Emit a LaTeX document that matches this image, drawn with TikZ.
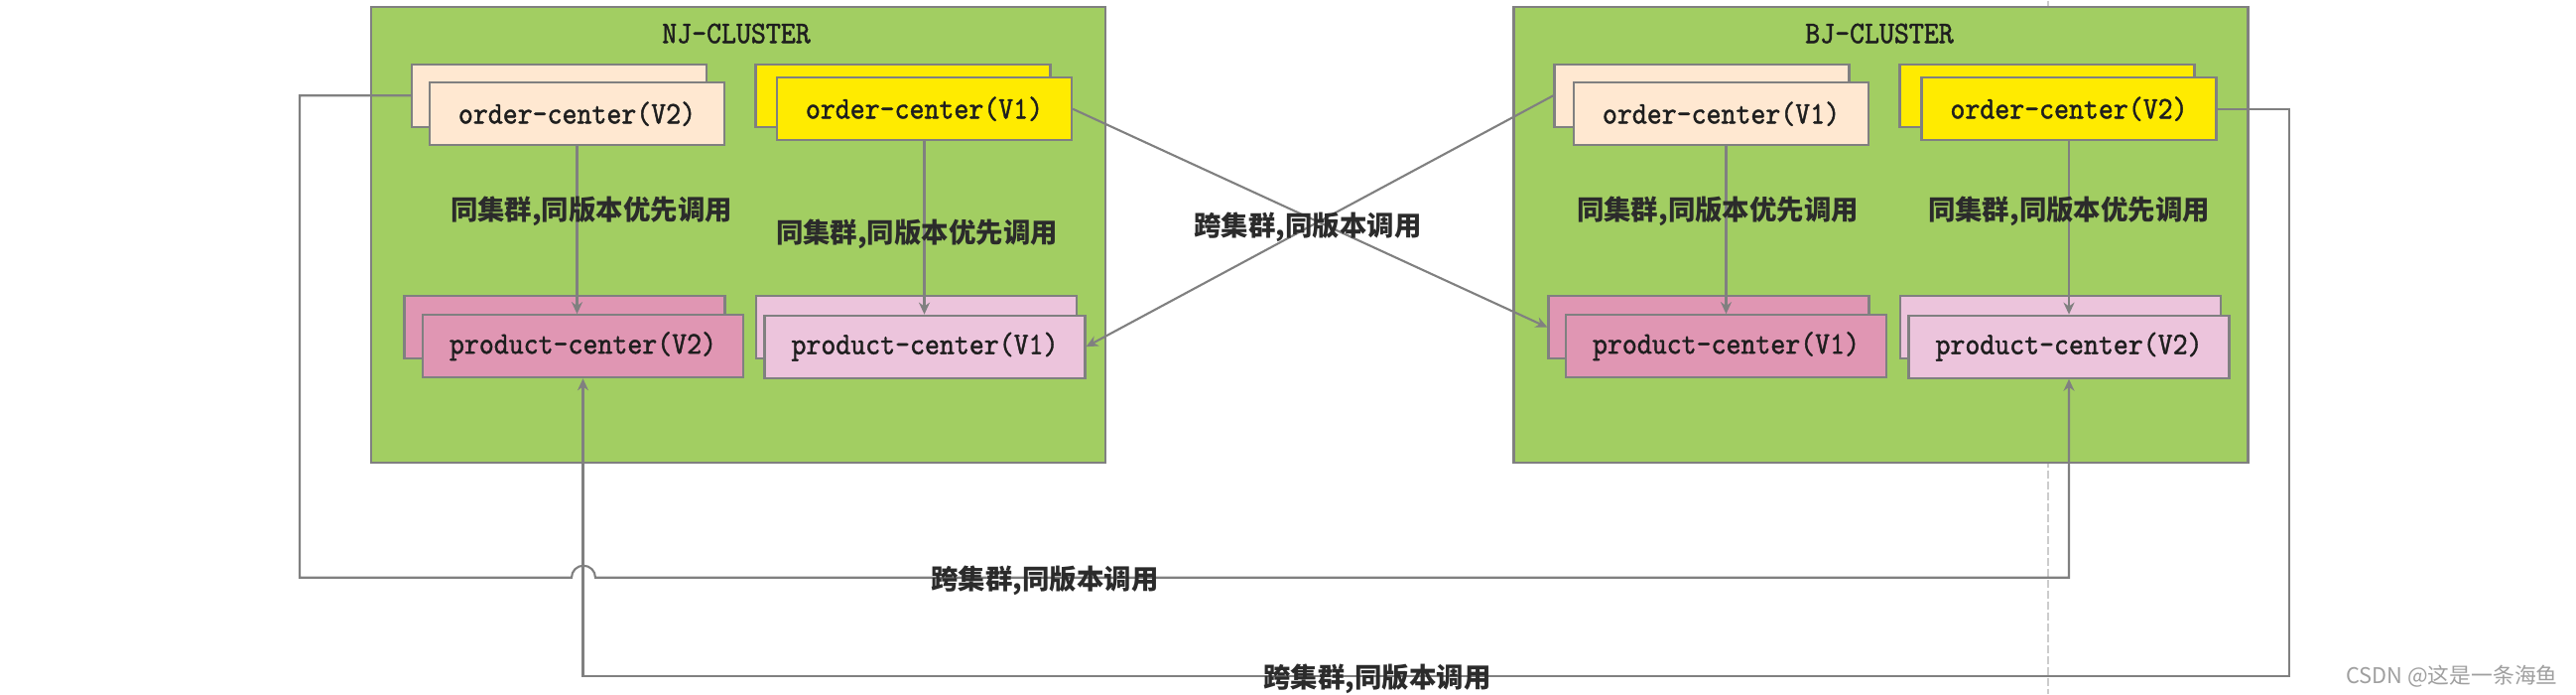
\documentclass[tikz,border=0pt]{standalone}
\usepackage{fontspec}
\usetikzlibrary{arrows.meta}
\newfontfamily\boxfont{lmmono10-regular.otf}[FakeStretch=0.9, FakeBold=1.3]
\newfontfamily\cjkfont{Noto Sans CJK SC}
\definecolor{clustergreen}{HTML}{A2CE62}
\definecolor{cpeach}{HTML}{FFE8D1}
\definecolor{cyellow}{HTML}{FFEB00}
\definecolor{crose}{HTML}{E096B3}
\definecolor{clight}{HTML}{ECC4DC}
\definecolor{linegray}{HTML}{808080}
\definecolor{textdark}{HTML}{1E1E1E}
\definecolor{labeldark}{HTML}{2B2B2B}
\begin{document}
\begin{tikzpicture}[x=0.1mm, y=-0.1mm]
        \tikzset{
        cluster/.style={draw=linegray, line width=0.6pt, fill=clustergreen,
        minimum width=74mm, minimum height=45.9mm, inner sep=0},
        title/.style={font=\boxfont\fontsize{9}{10}\selectfont, text=textdark, inner sep=0},
        box/.style={draw=linegray, line width=0.6pt, inner sep=0,
        font=\boxfont\fontsize{9}{10}\selectfont, text=textdark},
        obox/.style={box, minimum width=29.7mm, minimum height=6.3mm},
        pbox/.style={box, minimum width=32.3mm, minimum height=6.3mm},
        ordpeach/.style={obox, fill=cpeach},
        ordyellow/.style={obox, fill=cyellow},
        prodrose/.style={pbox, fill=crose},
        prodlight/.style={pbox, fill=clight},
        lbl/.style={font=\cjkfont\bfseries\fontsize{7.8}{9}\selectfont, text=labeldark, inner sep=0},
        wmark/.style={font=\cjkfont\fontsize{6.2}{7}\selectfont, text=gray!75, inner sep=0},
        guide/.style={draw=gray!40, line width=0.4pt, dash pattern=on 0.8mm off 0.3mm},
        conn/.style={draw=linegray, line width=0.6pt},
        arr/.style={conn, -{Stealth[length=1.2mm, width=1.1mm]}}
        }
        % guide line behind the clusters
        \draw[guide] (2064,0) -- (2064,698);

        \node[cluster] (nj) at (744,235.5) {};
        \node[cluster] (bj) at (1895.5,235.5) {};
        \node[title] (njt) at (742,33) {NJ-CLUSTER};
        \node[title] (bjt) at (1894,33) {BJ-CLUSTER};

        % NJ cluster
        \node[ordpeach] (njo2b) at (563.5,95.5) {};
        \node[ordpeach] (njo2) at (581.5,114) {order-center(V2)};
        \node[ordyellow] (njo1b) at (910,95.5) {};
        \node[ordyellow] (njo1) at (931.5,109) {order-center(V1)};
        \node[prodrose] (njp2b) at (569,329) {};
        \node[prodrose] (njp2) at (587.5,348) {product-center(V2)};
        \node[prodlight] (njp1b) at (923.5,329) {};
        \node[prodlight] (njp1) at (932,348.5) {product-center(V1)};

        % BJ cluster
        \node[ordpeach] (bjo1b) at (1715,95.5) {};
        \node[ordpeach] (bjo1) at (1734.5,114) {order-center(V1)};
        \node[ordyellow] (bjo2b) at (2063,95.5) {};
        \node[ordyellow] (bjo2) at (2085,109) {order-center(V2)};
        \node[prodrose] (bjp1b) at (1722,329) {};
        \node[prodrose] (bjp1) at (1739.5,348) {product-center(V1)};
        \node[prodlight] (bjp2b) at (2076.5,329) {};
        \node[prodlight] (bjp2) at (2085,348.5) {product-center(V2)};

        % same cluster calls
        \draw[arr] (njo2.south) -- (njo2.south |- njp2.north);
        \draw[arr] (njo1.south) -- (njo1.south |- njp1.north);
        \draw[arr] (bjp1.north |- bjo1.south) -- (bjp1.north);
        \draw[arr] (bjo2.south) -- (bjo2.south |- bjp2.north);

        % cross cluster calls
        \draw[arr] (njo1.east) -- (bjp1b.west);
        \draw[arr] (bjo1b.west) -- (njp1.east);

        \coordinate (lpa) at (302,581);
        \coordinate (jmp) at (576,581);
        \coordinate (lpb) at (2307,680);
        \draw[arr] (njo2b.west) -| (lpa) -- (jmp)
        arc[start angle=180, end angle=0, radius=1.2mm] -- (bjp2.south |- lpa) -- (bjp2.south);
        \draw[arr] (bjo2.east) -| (lpb) -| (njp2.south);

        % labels
        \node[lbl] (njl2) at (596,212) {同集群,同版本优先调用};
        \node[lbl] (njl1) at (924,235) {同集群,同版本优先调用};
        \node[lbl] (bjl1) at (1731,212) {同集群,同版本优先调用};
        \node[lbl] (bjl2) at (2085,212) {同集群,同版本优先调用};
        \node[lbl] (xl1) at (1318,228) {跨集群,同版本调用};
        \node[lbl] (xl2) at (1053,584) {跨集群,同版本调用};
        \node[lbl] (xl3) at (1388,683) {跨集群,同版本调用};
        \node[wmark] (csdn) at (2471,680) {CSDN @这是一条海鱼};

        \useasboundingbox (0,0) rectangle (2596,698);
        \end{tikzpicture}
\end{document}
